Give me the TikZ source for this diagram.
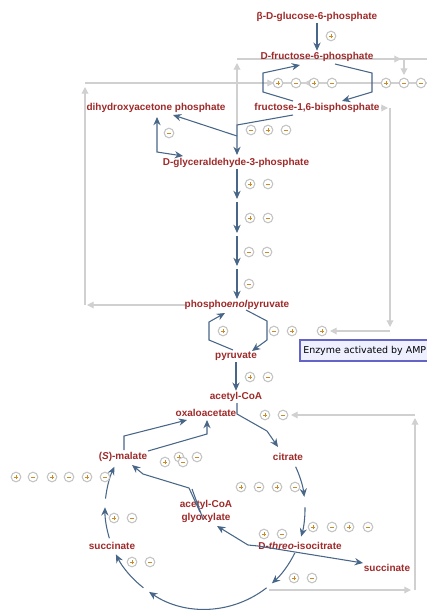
\documentclass[tikz,border=0pt]{standalone}
\usepackage{fontspec}
\setmainfont{Liberation Sans}
\newfontfamily\tipfont{DejaVu Sans}
\usetikzlibrary{arrows.meta}
\definecolor{lblred}{RGB}{158,42,42}
\definecolor{blueline}{RGB}{72,102,136}
\definecolor{grayline}{RGB}{208,208,208}
\definecolor{signor}{RGB}{200,140,35}
\definecolor{ringgray}{RGB}{196,196,196}
\definecolor{tipborder}{RGB}{100,100,200}
\definecolor{tipfill}{RGB}{238,240,255}
\tikzset{
  lbl/.style={font=\bfseries\fontsize{7.5}{8}\selectfont, text=lblred, inner sep=1pt},
  bl/.style={draw=blueline, line width=0.8pt, -{Stealth[length=6.2pt,width=5.4pt]}},
  blp/.style={draw=blueline, line width=0.8pt},
  gr/.style={draw=grayline, line width=0.9pt},
  gra/.style={draw=grayline, line width=0.9pt, -{Triangle[length=5pt,width=5pt]}},
  ring/.style={circle, draw=ringgray, fill=white, line width=0.8pt, inner sep=0pt, minimum size=7.2pt},
  plusc/.style={ring, path picture={
     \draw[signor, line width=0.7pt] (path picture bounding box.center) ++(-1.8pt,0) -- ++(3.6pt,0);
     \draw[signor, line width=0.7pt] (path picture bounding box.center) ++(0,-1.8pt) -- ++(0,3.6pt);}},
  minusc/.style={ring, path picture={
     \draw[signor, line width=0.7pt] (path picture bounding box.center) ++(-1.2pt,0) -- ++(2.4pt,0);}},
}
\begin{document}
\begin{tikzpicture}[x=0.75pt,y=-0.75pt]
\useasboundingbox (0,0) rectangle (427,611);
\clip (0,0) rectangle (427,611);

% ---------- gray regulation lines ----------
\draw[gra] (237,125) -- (237,63);
\draw[gr] (237,59) -- (427,59);
\draw[gra] (370,59) -- (401,59);
\draw[gra] (404,59) -- (404,75);
\draw[gr] (85,83) -- (427,83);
\draw[gra] (250,83) -- (274,83);
\draw[gra] (320,83) -- (304,83);
\draw[gra] (85,305) -- (85,87);
\draw[gra] (187,305) -- (87,305);
\draw[gra] (381,108) -- (388,108);
\draw[gr] (390,108) -- (390,320);
\draw[gra] (390,300) -- (390,327);
\draw[gra] (390,331) -- (330,331);
\draw[gra] (415,415) -- (291,415);
\draw[gra] (415,590) -- (415,418);
\draw[gra] (269,590) -- (411,590);

% ---------- labels ----------
\node[lbl] (g6p)  at (317,17)  {β-D-glucose-6-phosphate};
\node[lbl] (f6p)  at (317,57)  {D-fructose-6-phosphate};
\node[lbl] (fbp)  at (317,108) {fructose-1,6-bisphosphate};
\node[lbl] (dhap) at (156,108) {dihydroxyacetone phosphate};
\node[lbl] (gap)  at (236,163) {D-glyceraldehyde-3-phosphate};
\node[lbl] (pep)  at (237,305) {phospho\textit{enol}pyruvate};
\node[lbl] (pyr)  at (236,356) {pyruvate};
\node[lbl] (acoa) at (236,397) {acetyl-CoA};
\node[lbl] (oaa)  at (206,413) {oxaloacetate};
\node[lbl] (mal)  at (123,457) {(\textit{S})-malate};
\node[lbl] (cit)  at (288,457) {citrate};
\node[lbl] (acob) at (206,505) {acetyl-CoA};
\node[lbl] (glx)  at (206,518) {glyoxylate};
\node[lbl] (sucl) at (112,546) {succinate};
\node[lbl] (icit) at (300,546) {D-\textit{threo}-isocitrate};
\node[lbl] (sucr) at (387,568) {succinate};

% ---------- blue reaction arrows ----------
\draw[bl] (g6p) -- (f6p);
\draw[bl] (293,101) -- (263,92) -- (263,73) -- (300,65);
\draw[bl] (335,64) -- (372,73) -- (372,92) -- (342,101);
\draw[bl] (293,115) -- (237,125) -- (237,155);
\draw[bl] (237,136) -- (173,115);
\draw[blueline, line width=0.8pt, {Stealth[length=6.2pt,width=5.4pt]}-{Stealth[length=6.2pt,width=5.4pt]}] (157,117) -- (157,152) -- (183,156);
\draw[bl] (237,169) -- (237,199);
\draw[bl] (237,202) -- (237,233);
\draw[bl] (237,236) -- (237,266);
\draw[bl] (237,269) -- (237,299);
\draw[bl] (233,350) -- (209,340) -- (209,322) -- (225,313);
\draw[bl] (246,310) -- (267,321) -- (267,340) -- (252,351);
\draw[bl] (pyr) -- (acoa);
\draw[bl] (237,403) -- (237,414) -- (267,431) -- (278,447);

\coordinate (cc) at (205,509);
\draw[bl] (cc) ++(-25:100) arc[start angle=-25, end angle=-7, radius=100];
\draw[bl] (cc) ++(-1:100) arc[start angle=-1, end angle=16, radius=100];
\draw[bl] (cc) ++(26:100) arc[start angle=26, end angle=48, radius=100];
\draw[bl] (cc) ++(52:100) arc[start angle=52, end angle=124, radius=100];
\draw[bl] (cc) ++(128:100) arc[start angle=128, end angle=153, radius=100];
\draw[bl] (cc) ++(163:100) arc[start angle=163, end angle=181, radius=100];
\draw[bl] (cc) ++(186:100) arc[start angle=186, end angle=205, radius=100];

\draw[bl] (124,450) -- (124,436) -- (187,420);
\draw[bl] (148,451) -- (207,434) -- (207,420);
\draw[bl] (200,512) -- (189,488) -- (143,474) -- (132,465);
\draw[blp] (203,519) -- (192,489);
\draw[bl] (248,545) -- (217,526);
\draw[bl] (248,545) -- (258,546) -- (363,563);

% ---------- effector circles ----------
\foreach \x/\y [count=\i] in {331/36,278/83,314/83,386/83,268/130,250/184,250/218,
  223/331,292/331,322/331,250/377,265/415,16/477,52/477,87/477,179/457,165/462,
  241/487,277/487,114/518,313/527,349/527,264/534,132/562,294/578}
  \node[plusc] (p\i) at (\x,\y) {};
\foreach \x/\y [count=\i] in {296/83,332/83,404/83,421/83,169/133,251/130,286/130,
  268/184,268/218,249/252,267/252,249/284,274/331,268/377,283/415,33/477,69/477,
  105/477,183/462,197/457,259/487,295/487,132/518,332/527,368/527,282/534,150/562,312/578}
  \node[minusc] (m\i) at (\x,\y) {};

% ---------- tooltip ----------
\draw[tipborder, fill=tipfill, line width=0.8pt] (300,340) rectangle (432,361);
\node[anchor=west, inner sep=0pt, font=\tipfont\fontsize{7.1}{8}\selectfont] (tip) at (303,351) {Enzyme activated by AMP};
\end{tikzpicture}
\end{document}
